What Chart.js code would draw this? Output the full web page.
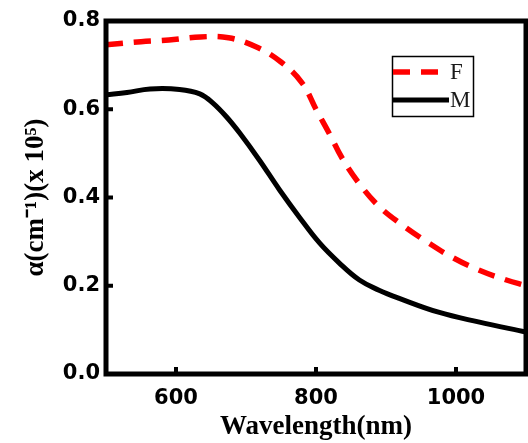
<!DOCTYPE html>
<html>
<head>
<meta charset="utf-8">
<script src="https://cdn.jsdelivr.net/npm/chart.js@4/dist/chart.umd.min.js"></script>
<style>
  html, body { margin: 0; padding: 0; background: #fff; }
  #wrap { width: 528px; height: 443px; }
</style>
</head>
<body>
<div id="wrap"><canvas id="alpha"></canvas></div>
<script>
// values
const wavelengthF = [500, 550, 590, 635, 675, 715, 750, 780, 800, 820, 837, 862, 890, 923, 958, 994, 1032, 1072, 1100];
const alphaF = [0.746, 0.753, 0.757, 0.764, 0.762, 0.741, 0.707, 0.660, 0.600, 0.542, 0.490, 0.431, 0.380, 0.338, 0.300, 0.265, 0.236, 0.213, 0.200];

const wavelengthM = [500, 530, 563, 605, 634, 652, 672, 691, 719, 748, 776, 805, 833, 862, 890, 918, 975, 1032, 1100];
const alphaM = [0.633, 0.638, 0.646, 0.645, 0.635, 0.615, 0.583, 0.546, 0.485, 0.417, 0.356, 0.297, 0.252, 0.213, 0.190, 0.172, 0.140, 0.118, 0.095];

const xTicks = [600, 800, 1000];
const yTicks = [0.0, 0.2, 0.4, 0.6, 0.8];

const tickFont = { family: 'DejaVu Sans', size: 21, weight: 'bold' };
const titleFont = { family: 'Liberation Serif', size: 27, weight: 'bold' };

// frame, inward ticks and the boxed legend
const framePlugin = {
  id: 'frame',
  afterDraw(chart) {
    const { ctx, chartArea: a, scales } = chart;
    ctx.save();
    ctx.strokeStyle = '#000';
    ctx.lineWidth = 5;
    ctx.strokeRect(a.left, a.top, a.right - a.left, a.bottom - a.top);
    ctx.lineWidth = 4;
    xTicks.forEach(v => {
      const x = scales.x.getPixelForValue(v);
      ctx.beginPath();
      ctx.moveTo(x, a.bottom);
      ctx.lineTo(x, a.bottom - 7);
      ctx.stroke();
    });
    yTicks.forEach(v => {
      const y = scales.y.getPixelForValue(v);
      ctx.beginPath();
      ctx.moveTo(a.left, y);
      ctx.lineTo(a.left + 7, y);
      ctx.stroke();
    });

    // legend
    const lx = 392, ly = 56, lw = 81, lh = 60;
    ctx.lineWidth = 1.5;
    ctx.strokeRect(lx + 0.5, ly + 0.5, lw, lh);
    const ds = chart.data.datasets;
    const rows = [
      { d: ds[0], y: ly + 16, len: 46 },
      { d: ds[1], y: ly + 44, len: 56 }
    ];
    ctx.font = '23px "Liberation Serif"';
    ctx.textBaseline = 'middle';
    ctx.fillStyle = '#1a1a1a';
    rows.forEach(r => {
      ctx.beginPath();
      ctx.strokeStyle = r.d.borderColor;
      ctx.lineWidth = r.d.borderWidth;
      ctx.setLineDash(r.d.borderDash || []);
      ctx.moveTo(lx + 1, r.y);
      ctx.lineTo(lx + 1 + r.len, r.y);
      ctx.stroke();
      ctx.setLineDash([]);
      ctx.fillText(r.d.label, lx + 58, r.y + 1);
    });
    ctx.restore();
  }
};

new Chart(document.getElementById('alpha'), {
  type: 'line',
  data: {
    datasets: [
      {
        label: 'F',
        data: wavelengthF.map((w, i) => ({ x: w, y: alphaF[i] })),
        borderColor: '#ff0000',
        borderWidth: 5.5,
        borderDash: [17, 11],
        pointRadius: 0,
        tension: 0.4
      },
      {
        label: 'M',
        data: wavelengthM.map((w, i) => ({ x: w, y: alphaM[i] })),
        borderColor: '#000000',
        borderWidth: 5,
        pointRadius: 0,
        tension: 0.4
      }
    ]
  },
  options: {
    responsive: true,
    maintainAspectRatio: false,
    animation: false,
    layout: { padding: { top: 21, right: 2, left: 0, bottom: 0 } },
    plugins: {
      legend: { display: false },
      tooltip: { enabled: false }
    },
    scales: {
      x: {
        type: 'linear',
        min: 500,
        max: 1100,
        afterBuildTicks: s => { s.ticks = xTicks.map(v => ({ value: v })); },
        afterFit: s => { s.height = 69; },
        grid: { display: false, drawTicks: false, tickLength: 0 },
        border: { display: false },
        ticks: { font: tickFont, color: '#000', padding: 12, maxRotation: 0, callback: v => String(v) },
        title: {
          display: true,
          text: 'Wavelength(nm)',
          font: titleFont,
          color: '#000',
          padding: { top: 0, bottom: 0 }
        }
      },
      y: {
        min: 0,
        max: 0.8,
        afterBuildTicks: s => { s.ticks = yTicks.map(v => ({ value: v })); },
        afterFit: s => { s.width = 106; },
        grid: { display: false, drawTicks: false, tickLength: 0 },
        border: { display: false },
        ticks: {
          font: tickFont,
          color: '#000',
          padding: 6,
          callback: v => v.toFixed(1)
        },
        title: {
          display: true,
          text: 'α(cm⁻¹)(x 10⁵)',
          font: titleFont,
          color: '#000',
          padding: { top: 20, bottom: 0 }
        }
      }
    }
  },
  plugins: [framePlugin]
});
</script>
</body>
</html>
